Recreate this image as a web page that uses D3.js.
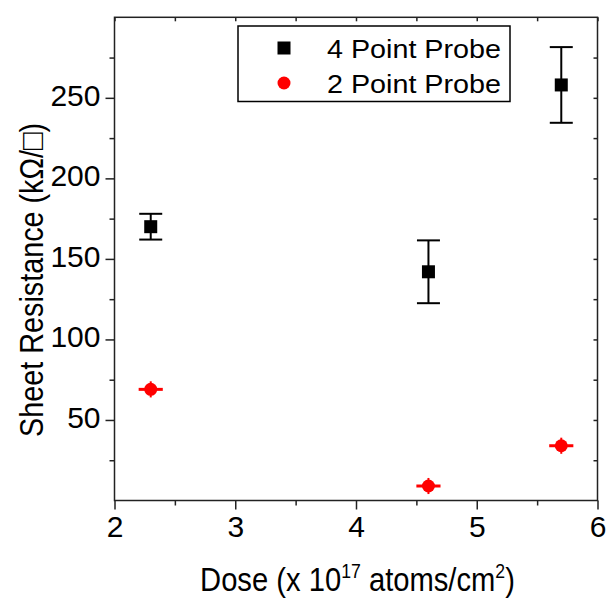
<!DOCTYPE html>
<html>
<head>
<meta charset="utf-8">
<script src="https://cdn.jsdelivr.net/npm/d3@7"></script>
<style>
  body { margin: 0; background: #fff; }
  svg text { font-family: "Liberation Sans", Arial, sans-serif; fill: #000; }
</style>
</head>
<body>
<div id="chart"></div>
<script>
// data
var dose = [2.3, 4.6, 5.7];
var fourPoint = [170, 142, 258];
var fourPointErr = [8, 19.5, 23.5];
var twoPoint = [69, 9, 34];
var twoPointErrX = [0.1, 0.1, 0.1];
var twoPointErrY = [5, 5, 5];
var xTicks = [2, 3, 4, 5, 6];
var xMinor = [2.5, 3.5, 4.5, 5.5];
var yTicks = [50, 100, 150, 200, 250];
var yMinor = [25, 75, 125, 175, 225, 275];
var legendNames = ["4 Point Probe", "2 Point Probe"];

var width = 608, height = 599;
var plotL = 114.5, plotR = 597.5, plotT = 17.3, plotB = 500.5;

var svg = d3.select("#chart").append("svg")
    .attr("width", width)
    .attr("height", height);

var x = d3.scaleLinear().domain([2, 6]).range([plotL, plotR]);
var y = d3.scaleLinear().domain([0, 300]).range([plotB, plotT]);

// axes
var gx = svg.append("g").attr("transform", "translate(0," + plotB + ")")
    .call(d3.axisBottom(x).tickValues(xTicks).tickSize(9).tickPadding(6).tickFormat(d3.format("d")));
svg.append("g").attr("transform", "translate(0," + plotB + ")")
    .call(d3.axisBottom(x).tickValues(xMinor).tickSize(5).tickFormat(""));
var gy = svg.append("g").attr("transform", "translate(" + plotL + ",0)")
    .call(d3.axisLeft(y).tickValues(yTicks).tickSize(9).tickPadding(5));
svg.append("g").attr("transform", "translate(" + plotL + ",0)")
    .call(d3.axisLeft(y).tickValues(yMinor).tickSize(5).tickFormat(""));
// mirrored ticks top / right, inward
svg.append("g").attr("transform", "translate(0," + plotT + ")")
    .call(d3.axisTop(x).tickValues(xTicks.concat(xMinor)).tickSize(-4).tickFormat(""));
svg.append("g").attr("transform", "translate(" + plotR + ",0)")
    .call(d3.axisRight(y).tickValues(yTicks.concat(yMinor)).tickSize(-4).tickFormat(""));

svg.selectAll(".domain").remove();
svg.selectAll(".tick line").attr("stroke", "#222").attr("stroke-width", 1.5);
svg.selectAll(".tick text").attr("font-size", 30).attr("font-family", "Liberation Sans, Arial, sans-serif").attr("fill", "#000");
gy.selectAll(".tick text").attr("dy", "0.25em");

// frame
svg.append("rect")
    .attr("x", plotL).attr("y", plotT)
    .attr("width", plotR - plotL).attr("height", plotB - plotT)
    .attr("fill", "none").attr("stroke", "#222").attr("stroke-width", 1.5);

// 4 point probe: error bars + squares
var g4 = svg.append("g");
dose.forEach(function(d, i) {
    var cx = x(d), y0 = y(fourPoint[i] - fourPointErr[i]), y1 = y(fourPoint[i] + fourPointErr[i]);
    g4.append("line").attr("x1", cx).attr("x2", cx).attr("y1", y0).attr("y2", y1)
        .attr("stroke", "#000").attr("stroke-width", 2);
    [y0, y1].forEach(function(yy) {
        g4.append("line").attr("x1", cx - 11.5).attr("x2", cx + 11.5).attr("y1", yy).attr("y2", yy)
            .attr("stroke", "#000").attr("stroke-width", 2);
    });
});
g4.selectAll("rect").data(dose).enter().append("rect")
    .attr("x", function(d) { return x(d) - 6.5; })
    .attr("y", function(d, i) { return y(fourPoint[i]) - 6.5; })
    .attr("width", 13).attr("height", 13)
    .attr("fill", "#000");

// 2 point probe: error bars + circles
var g2 = svg.append("g");
dose.forEach(function(d, i) {
    var cy = y(twoPoint[i]);
    g2.append("line").attr("x1", x(d - twoPointErrX[i])).attr("x2", x(d + twoPointErrX[i]))
        .attr("y1", cy).attr("y2", cy).attr("stroke", "#f00").attr("stroke-width", 3);
    g2.append("line").attr("x1", x(d)).attr("x2", x(d))
        .attr("y1", y(twoPoint[i] - twoPointErrY[i])).attr("y2", y(twoPoint[i] + twoPointErrY[i]))
        .attr("stroke", "#f00").attr("stroke-width", 2);
});
g2.selectAll("circle").data(dose).enter().append("circle")
    .attr("cx", function(d) { return x(d); })
    .attr("cy", function(d, i) { return y(twoPoint[i]); })
    .attr("r", 6.5)
    .attr("fill", "#f00");

// legend
var lg = svg.append("g");
lg.append("rect").attr("x", 238).attr("y", 26).attr("width", 272).attr("height", 75.5)
    .attr("fill", "#fff").attr("stroke", "#000").attr("stroke-width", 1.5);
lg.append("rect").attr("x", 284 - 6.5).attr("y", 48 - 6.5).attr("width", 13).attr("height", 13).attr("fill", "#000");
lg.append("circle").attr("cx", 284).attr("cy", 83).attr("r", 6.5).attr("fill", "#f00");
lg.selectAll("text").data(legendNames).enter().append("text")
    .attr("x", 327)
    .attr("y", function(d, i) { return 58.3 + i * 35; })
    .attr("font-size", 26)
    .attr("textLength", 174)
    .attr("lengthAdjust", "spacingAndGlyphs")
    .text(function(d) { return d; });

// axis titles, squeezed to the reference width
function fitLabel(g, target) {
    var w = g.select("text").node().getComputedTextLength();
    return target / w;
}

var xl = svg.append("g");
var xt = xl.append("text").attr("font-size", 33).attr("text-anchor", "middle");
xt.append("tspan").text("Dose (x 10");
xt.append("tspan").attr("font-size", 20).attr("dy", -13).text("17");
xt.append("tspan").attr("dy", 13).text(" atoms/cm");
xt.append("tspan").attr("font-size", 20).attr("dy", -13).text("2");
xt.append("tspan").attr("dy", 13).text(")");
var sx = fitLabel(xl, 315);
xl.attr("transform", "translate(357.5,591) scale(" + sx + ",1)");

var yl = svg.append("g");
yl.append("text").attr("font-size", 33).attr("text-anchor", "middle")
    .text("Sheet Resistance (k\u03A9/\u25A1)");
var sy = fitLabel(yl, 314);
yl.attr("transform", "translate(43,280) rotate(-90) scale(" + sy + ",1)");
</script>
</body>
</html>
